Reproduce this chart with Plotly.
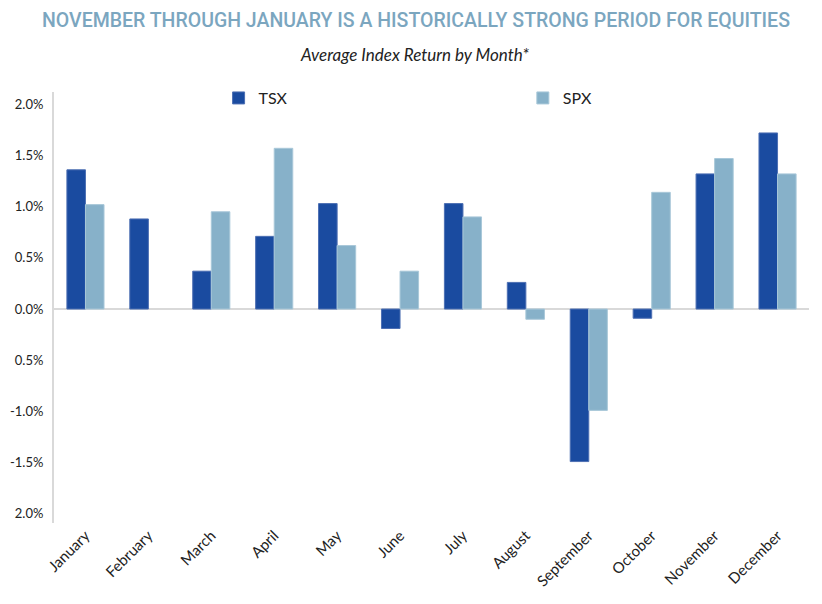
import plotly.graph_objects as go

months = ["January", "February", "March", "April", "May", "June", "July",
          "August", "September", "October", "November", "December"]
tsx = [1.36, 0.88, 0.37, 0.71, 1.03, -0.19, 1.03, 0.26, -1.49, -0.09, 1.32, 1.72]
spx = [1.02, None, 0.95, 1.57, 0.62, 0.37, 0.90, -0.10, -0.99, 1.14, 1.47, 1.32]

tick_vals = [2.0, 1.5, 1.0, 0.5, 0.0, -0.5, -1.0, -1.5, -2.0]
tick_text = ["2.0%", "1.5%", "1.0%", "0.5%", "0.0%", "0.5%", "-1.0%", "-1.5%", "2.0%"]

title_text = "NOVEMBER THROUGH JANUARY IS A HISTORICALLY STRONG PERIOD FOR EQUITIES"
subtitle_text = "Average Index Return by Month*"

FONT = "Lato"
TITLE_FONT = "Roboto"
TSX_COLOR = "#1a4ba0"
SPX_COLOR = "#87b1c9"

fig = go.Figure()
fig.add_trace(go.Bar(name="TSX", x=months, y=tsx, legend="legend",
                     marker=dict(color=TSX_COLOR, line=dict(color="#4d6fb3", width=1))))
fig.add_trace(go.Bar(name="SPX", x=months, y=spx, legend="legend2",
                     marker=dict(color=SPX_COLOR, line=dict(color="#a9c8d9", width=1))))

legend_common = dict(orientation="h", yanchor="middle", xanchor="left", itemwidth=30,
                     font=dict(family=FONT, size=16, color="#222222"),
                     bgcolor="rgba(0,0,0,0)", borderwidth=0)

fig.update_layout(
    width=822, height=604,
    margin=dict(l=46, r=21, t=84, b=89, autoexpand=False),
    paper_bgcolor="white", plot_bgcolor="white",
    barmode="group", bargap=0.41, bargroupgap=0,
    font=dict(family=FONT, size=14, color="#222222"),
    showlegend=True,
    legend=dict(x=0.218, y=0.986, **legend_common),
    legend2=dict(x=0.621, y=0.986, **legend_common),
    xaxis=dict(tickangle=-45, showline=False, showgrid=False, ticks="", automargin=False,
               tickfont=dict(family=FONT, size=15, color="#222222"),
               range=[-0.5, 11.5]),
    yaxis=dict(range=[-2.09, 2.12], tickvals=tick_vals, ticktext=tick_text, automargin=False,
               showgrid=False, showline=True, linecolor="#d9d9d9", linewidth=2,
               zeroline=True, zerolinecolor="#d9d9d9", zerolinewidth=2,
               ticks="", ticklabelstandoff=6,
               tickfont=dict(family=FONT, size=13, color="#222222")),
)
fig.add_annotation(text=title_text, xref="paper", yref="paper", x=0.479, xanchor="center",
                   y=1, yanchor="middle", yshift=72, showarrow=False,
                   font=dict(family=TITLE_FONT, size=19.5, color="#7ba6bf", weight=500))
fig.add_annotation(text="<i>" + subtitle_text + "</i>", xref="paper", yref="paper", x=0.477, xanchor="center",
                   y=1, yanchor="middle", yshift=38, showarrow=False,
                   font=dict(family=FONT, size=17, color="#222222"))

fig.write_html("out.html")
